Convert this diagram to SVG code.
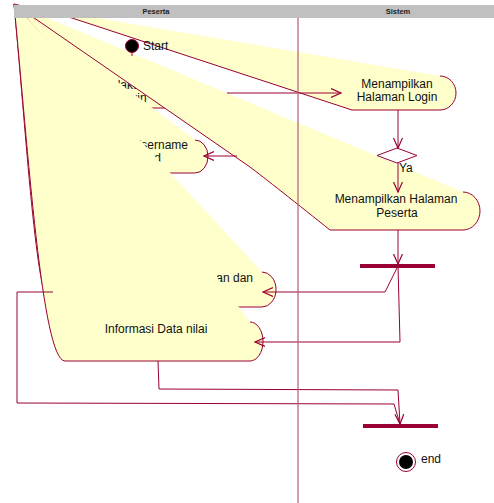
<svg xmlns="http://www.w3.org/2000/svg" width="494" height="503" viewBox="0 0 494 503">
<style>
.act{fill:#ffffcc;stroke:#990033;stroke-width:1}
.t{font-family:"Liberation Sans",Arial,sans-serif;font-size:12px;fill:#111}
.c{fill:none;stroke:#990033;stroke-width:1}
.hd{font-family:"Liberation Sans",Arial,sans-serif;font-size:7.5px;font-weight:bold;fill:#222}
.bar{fill:#990033}
</style>
<defs>
<marker id="arr" markerWidth="12" markerHeight="12" refX="10" refY="5" orient="auto" markerUnits="userSpaceOnUse">
<path d="M0,0.5 L10,5 L0,9.5" fill="none" stroke="#990033" stroke-width="1.2"/>
</marker>
</defs>
<rect width="494" height="503" fill="#fff"/>

<g id="n-login-peserta">
<path class="act" d="M175,78 A12,15 0 0 1 175,108 L147,108 L14,4"/>
<text class="t" x="130" y="89" text-anchor="middle">Melakukan</text>
<text class="t" x="132" y="102" text-anchor="middle">Login</text>
</g>
<g id="n-halaman-login">
<path class="act" d="M440,76 A16,17 0 0 1 440,110 L352,110 L72,18 L14,4"/>
<text class="t" x="397" y="88" text-anchor="middle">Menampilkan</text>
<text class="t" x="397" y="101" text-anchor="middle">Halaman Login</text>
</g>
<g id="n-username">
<path class="act" d="M195,140 A13,16.5 0 0 1 195,173 L165,173 L14,4"/>
<text class="t" x="123" y="149" text-anchor="middle">Memasukkan Username</text>
<text class="t" x="123" y="162" text-anchor="middle">dan Password</text>
</g>
<g id="n-halaman-peserta">
<path class="act" d="M463,192 A17,19 0 0 1 463,230 L330,230 C300,206 262,176 250,167 L14,4"/>
<text class="t" x="396" y="203" text-anchor="middle">Menampilkan Halaman</text>
<text class="t" x="397" y="217" text-anchor="middle">Peserta</text>
</g>
<g id="n-pengumuman">
<path class="act" d="M262,272 A14,17.5 0 0 1 262,307 L52,307 C36,307 26,130 14,4"/>
<text class="t" x="253" y="282" text-anchor="end">an dan</text>
</g>
<g id="n-informasi">
<path class="act" d="M250,322 A13,19.5 0 0 1 250,361 L65,361 C42,361 28,150 14,4"/>
<text class="t" x="156" y="333" text-anchor="middle">Informasi Data nilai</text>
</g>

<g id="n-start">
<circle cx="132" cy="46" r="6.5" fill="#000" stroke="#990033" stroke-width="1"/>
<text class="t" x="143" y="50">Start</text>
</g>
<g id="n-decision">
<polygon points="377,155.5 397,148 417,155.5 397,163" fill="#fff" stroke="#990033" stroke-width="1"/>
</g>
<g id="n-fork">
<rect class="bar" x="360" y="264" width="75" height="4"/>
</g>
<g id="n-join">
<rect class="bar" x="363" y="424" width="75" height="4"/>
</g>
<g id="n-end">
<circle cx="406" cy="462" r="9.5" fill="#fff" stroke="#990033" stroke-width="1"/>
<circle cx="406" cy="462" r="7" fill="#000"/>
<text class="t" x="421" y="463">end</text>
</g>

<g id="connectors">
<path class="c" d="M132,53 L132,56"/>
<path class="c" d="M227,93 L341,93" stroke-width="1.6" marker-end="url(#arr)"/>
<path class="c" d="M237,156 L204,156" marker-end="url(#arr)"/>
<path class="c" d="M398,110 L398,148" marker-end="url(#arr)"/>
<path class="c" d="M398,163 L398,192" marker-end="url(#arr)"/>
<text class="t" x="399" y="172">Ya</text>
<path class="c" d="M398,230 L398,264" marker-end="url(#arr)"/>
<path class="c" d="M398,266 L385,292 L263,292" marker-end="url(#arr)"/>
<path class="c" d="M398,266 L400,342 L255,342" marker-end="url(#arr)"/>
<path class="c" d="M158,361 L159,389 L398,390 L400,424" marker-end="url(#arr)"/>
<path class="c" d="M53,292 L17,292 L17,403 L394,404 L400,424"/>
</g>

<g id="lanes">
<line x1="298" y1="18" x2="298" y2="503" stroke="#b85a7c" stroke-width="1.2"/>
<rect x="14" y="5" width="480" height="13" fill="#c0c0c0"/>
<text class="hd" x="156" y="14" text-anchor="middle">Peserta</text>
<text class="hd" x="398" y="14" text-anchor="middle">Sistem</text>
</g>
</svg>
